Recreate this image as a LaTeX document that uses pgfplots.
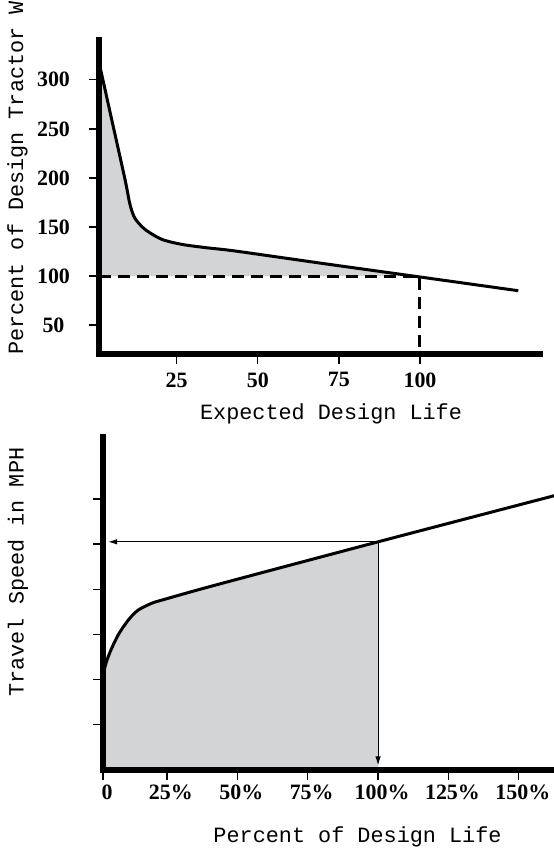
\documentclass[border=0pt]{standalone}
\usepackage{fontspec}
\setmainfont{Liberation Serif}
\newfontfamily\monofont{Liberation Mono}
\usepackage{pgfplots}
\pgfplotsset{compat=1.18}
\usepgfplotslibrary{fillbetween}
\usetikzlibrary{arrows.meta}
\definecolor{fillgray}{RGB}{211,212,214}
\begin{document}
\begin{tikzpicture}
\pgfplotsset{
  myaxis/.style={
    scale only axis,
    anchor=south west,
    axis on top,
    axis x line=bottom, axis y line=left,
    axis line style={line width=6.5bp, -, line cap=rect},
    tick align=outside,
    major tick length=10bp,
    tick style={line width=1.3bp, black},
    ticklabel style={font=\fontsize{22}{24}\selectfont\bfseries},
  }
}
% ---------------- top chart ----------------
\begin{axis}[myaxis,
  at={(99bp,494bp)}, width=441bp, height=314bp,
  xmin=1.05, xmax=137, ymin=20.5, ymax=340.6,
  xtick={25,50,75,100}, xticklabels={25,50,75,100},
  ytick={50,100,150,200,250,300}, yticklabels={50,100,150,200,250,300},
  xticklabel style={yshift=-5bp},
  yticklabel style={text width=40bp, align=center, xshift=-12bp},
]
\addplot[name path=A, draw=none, smooth, tension=0.45] coordinates {
 (1.05,318) (5,259) (9.1,198) (10.6,173) (12.1,159) (15.2,147.6) (20.4,137.4)
 (26.5,132.3) (33.7,129) (43,125.5) (70,112.8) (100,99) (130.3,85)};
\addplot[name path=B, draw=none] coordinates {(1.05,100) (100,100)};
\addplot[fillgray] fill between[of=A and B, soft clip={domain=1.05:97.8}];
\addplot[black, line width=3bp, dash pattern=on 12bp off 7bp] coordinates {(1.05,100) (100,100) (100,20.5)};
\addplot[black, line width=3bp, smooth, tension=0.45] coordinates {
 (1.05,318) (5,259) (9.1,198) (10.6,173) (12.1,159) (15.2,147.6) (20.4,137.4)
 (26.5,132.3) (33.7,129) (43,125.5) (70,112.8) (100,99) (130.3,85)};
\end{axis}
% ---------------- bottom chart ----------------
\begin{axis}[myaxis,
  at={(103bp,78bp)}, width=453bp, height=333bp,
  xmin=2.3, xmax=163.2, ymin=0, ymax=7.37,
  xtick={2.3,25,50,75,100,125,150},
  xticklabels={0,25\%,50\%,75\%,100\%,125\%,150\%},
  xticklabel style={xshift=4bp, yshift=-1.5bp},
  ytick={1,2,3,4,5,6}, yticklabels={},
]
\addplot[name path=C, draw=none, smooth, tension=0.45] coordinates {
 (2.3,2.08) (3.2,2.33) (4.8,2.61) (7.7,2.99) (11.3,3.32) (14.8,3.54) (19.6,3.69)
 (23.2,3.76) (42.1,4.09) (100,5.05) (165,6.11)};
\addplot[name path=D, draw=none] coordinates {(2.3,0) (100,0)};
\addplot[fillgray] fill between[of=C and D, soft clip={domain=2.3:100}];
\addplot[black, line width=1.1bp, -{Latex[length=9bp,width=5.5bp]}] coordinates {(100,5.05) (4.1,5.05)};
\addplot[black, line width=1.1bp, -{Latex[length=9bp,width=5.5bp]}] coordinates {(100,5.05) (100,0.1)};
\addplot[black, line width=3bp, smooth, tension=0.45] coordinates {
 (2.3,2.08) (3.2,2.33) (4.8,2.61) (7.7,2.99) (11.3,3.32) (14.8,3.54) (19.6,3.69)
 (23.2,3.76) (42.1,4.09) (100,5.05) (165,6.11)};
\end{axis}
% ---------------- axis titles ----------------
\tikzset{lab/.style={font=\monofont\fontsize{21.9}{24}\selectfont, inner sep=0pt}}
\node[lab, anchor=base] at (331bp,428bp) {Expected Design Life};
\node[lab, anchor=base] at (357.5bp,6bp) {Percent of Design Life};
\node[lab, rotate=90, anchor=base west] at (23bp,493bp) {Percent of Design Tractor Weight};
\node[lab, rotate=90, anchor=base west] at (23.5bp,151.3bp) {Travel Speed in MPH};
\pgfresetboundingbox
\useasboundingbox (0bp,0bp) rectangle (554bp,848bp);
\end{tikzpicture}
\end{document}
